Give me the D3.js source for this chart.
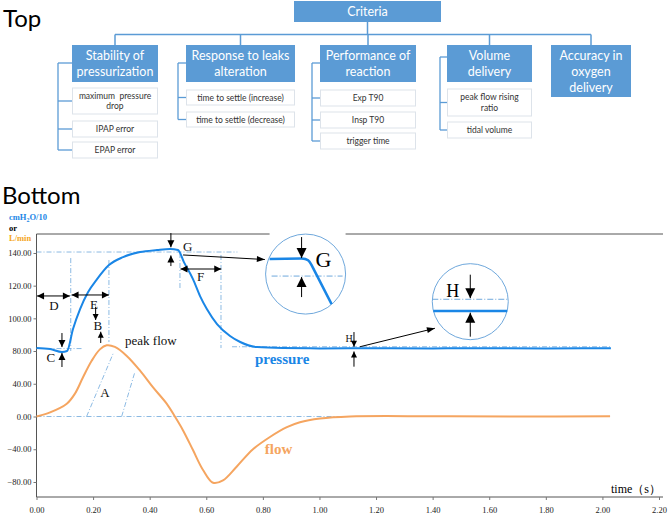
<!DOCTYPE html>
<html>
<head>
<meta charset="utf-8">
<script src="https://cdn.jsdelivr.net/npm/d3@7"></script>
<style>
  body { margin: 0; background: #fff; }
</style>
</head>
<body>
<script>
// ---------- data ----------
var rootLabel = "Criteria";
var groups = ["Stability of|pressurization", "Response to leaks|alteration", "Performance of|reaction", "Volume|delivery", "Accuracy in|oxygen|delivery"];
var subItems = [
    ["maximum  pressure|drop", "IPAP error", "EPAP error"],
    ["time to settle (increase)", "time to settle (decrease)"],
    ["Exp T90", "Insp T90", "trigger time"],
    ["peak flow rising|ratio", "tidal volume"],
    []
];

var timeTicks = [0, 0.2, 0.4, 0.6, 0.8, 1.0, 1.2, 1.4, 1.6, 1.8, 2.0, 2.2];
var flowTicks = [-80, -40, 0, 40, 80];
var pressureTicks = [100, 120, 140];

// pressure (cmH2O/10)
var presTime = [0, 0.048, 0.09, 0.108, 0.129, 0.154, 0.182, 0.214, 0.256, 0.306, 0.366, 0.426, 0.472, 0.5, 0.521, 0.553, 0.578, 0.602, 0.638, 0.684, 0.72, 0.78, 0.87, 1.0, 1.2, 1.4, 1.6, 1.8, 2.03];
var presValue = [81.8, 81.2, 79.4, 80, 93.5, 105.7, 116, 124, 132.6, 137.5, 140.6, 141.8, 142.4, 141.8, 134.4, 124, 113.6, 105.7, 96.5, 89.2, 85.5, 82.4, 81.8, 81.6, 81.7, 81.6, 81.7, 81.6, 81.7];

// flow (L/min)
var flowTime = [0, 0.048, 0.107, 0.136, 0.164, 0.195, 0.224, 0.248, 0.277, 0.319, 0.366, 0.412, 0.46, 0.489, 0.518, 0.553, 0.588, 0.624, 0.659, 0.708, 0.765, 0.825, 0.885, 0.931, 1.002, 1.108, 1.4, 1.7, 2.027];
var flowValue = [0, 5, 15.6, 28, 47.6, 68, 82, 87, 85, 74, 56, 35.5, 15.7, 0, -17, -41, -65, -81, -78, -61, -40, -25, -13, -7, -2.5, 0, 0.3, 0, 0.2];

// ---------- setup ----------
var W = 669, H = 516;
var blue = "#5b9bd5",
    lineBlue = "#1a86e6",
    orange = "#f5a560",
    guide = "#6fa8dc";
var sans = "Lato, 'Open Sans', sans-serif",
    serif = "'Liberation Serif', 'DejaVu Serif', serif";

var svg = d3.select("body").append("svg")
    .attr("width", W)
    .attr("height", H);

/* ------- Top : criteria tree ------- */
var boxX = [[72, 158], [186, 295], [320, 416], [447, 532], [551, 631]];
var boxTop = 45, boxBottom = [82, 82, 82, 82, 97];
var subY = [
    [[88, 114], [121, 137], [142, 158]],
    [[90, 105], [112, 127]],
    [[90, 106], [112, 128], [133, 149]],
    [[89, 116], [122, 138]],
    []
];
var bracketX = [58, 178, 312, 440];
var bracketTop = [63, 63, 63, 57];

svg.append("text")
    .attr("x", 3).attr("y", 27)
    .style("font", "24px " + sans)
    .text("Top");

var tree = svg.append("g");
tree.append("rect")
    .attr("x", 294).attr("y", 1).attr("width", 147).attr("height", 21)
    .attr("fill", blue);
tree.append("text")
    .attr("x", 367.5).attr("y", 16)
    .attr("text-anchor", "middle")
    .attr("fill", "#fff")
    .style("font", "12.5px " + sans)
    .text(rootLabel);

var busY = 34.5;
var centers = boxX.map(function (b) { return (b[0] + b[1]) / 2; });
tree.append("line")
    .attr("x1", 367.5).attr("x2", 367.5).attr("y1", 22).attr("y2", busY)
    .attr("stroke", blue).attr("stroke-width", 1.5);
tree.append("line")
    .attr("x1", centers[0]).attr("x2", centers[centers.length - 1])
    .attr("y1", busY).attr("y2", busY)
    .attr("stroke", blue).attr("stroke-width", 1.5);

groups.forEach(function (label, i) {
    var b = boxX[i];
    tree.append("line")
        .attr("x1", centers[i]).attr("x2", centers[i])
        .attr("y1", busY).attr("y2", boxTop)
        .attr("stroke", blue).attr("stroke-width", 1.5);
    tree.append("rect")
        .attr("x", b[0]).attr("y", boxTop)
        .attr("width", b[1] - b[0]).attr("height", boxBottom[i] - boxTop)
        .attr("fill", blue);
    var lines = label.split("|");
    var t = tree.append("text")
        .attr("text-anchor", "middle")
        .attr("fill", "#fff")
        .style("font", "12.5px " + sans);
    var mid = (boxTop + boxBottom[i]) / 2;
    lines.forEach(function (ln, k) {
        t.append("tspan")
            .attr("x", centers[i])
            .attr("y", mid + 4.5 + (k - (lines.length - 1) / 2) * 16)
            .text(ln);
    });

    var subs = subItems[i];
    if (!subs.length) return;
    var bx = bracketX[i];
    var lastMid = (subY[i][subs.length - 1][0] + subY[i][subs.length - 1][1]) / 2;
    tree.append("line")
        .attr("x1", bx).attr("x2", bx).attr("y1", bracketTop[i]).attr("y2", lastMid)
        .attr("stroke", blue).attr("stroke-width", 1.3);
    tree.append("line")
        .attr("x1", bx).attr("x2", b[0]).attr("y1", bracketTop[i]).attr("y2", bracketTop[i])
        .attr("stroke", blue).attr("stroke-width", 1.3);
    subs.forEach(function (s, k) {
        var yy = subY[i][k];
        var m = (yy[0] + yy[1]) / 2;
        tree.append("line")
            .attr("x1", bx).attr("x2", b[0]).attr("y1", m).attr("y2", m)
            .attr("stroke", blue).attr("stroke-width", 1.3);
        tree.append("rect")
            .attr("x", b[0] + 0.5).attr("y", yy[0])
            .attr("width", b[1] - b[0] - 1).attr("height", yy[1] - yy[0])
            .attr("fill", "#fff").attr("stroke", "#dde3ea").attr("stroke-width", 1);
        var sl = s.split("|");
        var st = tree.append("text")
            .attr("text-anchor", "middle")
            .attr("fill", "#333")
            .style("font", "8.5px " + sans)
            .style("white-space", "pre");
        sl.forEach(function (ln, j) {
            st.append("tspan")
                .attr("x", centers[i])
                .attr("y", m + 3 + (j - (sl.length - 1) / 2) * 10.5)
                .text(ln);
        });
    });
});

/* ------- Bottom : pressure / flow chart ------- */
svg.append("text")
    .attr("x", 2).attr("y", 204)
    .style("font", "24px " + sans)
    .text("Bottom");

var plotLeft = 36.5, plotRight = 663, plotTop = 234, plotBottom = 497;

var x = d3.scaleLinear().domain([0, 2.2]).range([plotLeft, 659]);
var yP = d3.scaleLinear().domain([80, 140]).range([351, 253]);   // cmH2O/10
var yF = d3.scaleLinear().domain([-80, 80]).range([482, 351]);   // L/min

var chart = svg.append("g");

// axis labels
var unit = chart.append("text")
    .attr("x", 9).attr("y", 220)
    .attr("fill", lineBlue)
    .style("font", "bold 8.5px " + serif);
unit.append("tspan").text("cmH");
unit.append("tspan").attr("dy", 2).style("font-size", "6px").text("2");
unit.append("tspan").attr("dy", -2).text("O/10");
chart.append("text").attr("x", 9).attr("y", 231)
    .style("font", "bold 8.5px " + serif).text("or");
chart.append("text").attr("x", 9).attr("y", 241)
    .attr("fill", "#f5a623")
    .style("font", "bold 8.5px " + serif).text("L/min");

// frame
var gGap = [x(0.951) - 36, x(0.951) + 40];
chart.append("line")
    .attr("x1", plotLeft).attr("x2", gGap[0]).attr("y1", plotTop).attr("y2", plotTop)
    .attr("stroke", "#555").attr("stroke-width", 1);
chart.append("line")
    .attr("x1", gGap[1]).attr("x2", plotRight).attr("y1", plotTop).attr("y2", plotTop)
    .attr("stroke", "#555").attr("stroke-width", 1);
chart.append("line")
    .attr("x1", plotLeft).attr("x2", plotLeft).attr("y1", plotTop).attr("y2", plotBottom)
    .attr("stroke", "#555").attr("stroke-width", 1);
chart.append("line")
    .attr("x1", plotLeft).attr("x2", plotRight).attr("y1", plotBottom).attr("y2", plotBottom)
    .attr("stroke", "#555").attr("stroke-width", 1);

var fmt = d3.format(".2f");
var xAxis = chart.append("g")
    .attr("transform", "translate(0," + plotBottom + ")")
    .call(d3.axisBottom(x).tickValues(timeTicks).tickSize(3).tickFormat(fmt));
var yAxisF = chart.append("g")
    .attr("transform", "translate(" + plotLeft + ",0)")
    .call(d3.axisLeft(yF).tickValues(flowTicks).tickSize(3).tickFormat(fmt));
var yAxisP = chart.append("g")
    .attr("transform", "translate(" + plotLeft + ",0)")
    .call(d3.axisLeft(yP).tickValues(pressureTicks).tickSize(3).tickFormat(fmt));
[xAxis, yAxisF, yAxisP].forEach(function (a) {
    a.select(".domain").remove();
    a.selectAll("line").attr("stroke", "#777");
    a.selectAll("text").style("font", "8.5px " + serif).attr("fill", "#222");
});
xAxis.selectAll("text").attr("y", 16).attr("dy", 0);
yAxisF.selectAll("text").attr("x", -5);
yAxisP.selectAll("text").attr("x", -5);

chart.append("text")
    .attr("x", 611).attr("y", 493)
    .style("font", "12px " + serif)
    .text("time（s）");

// guide lines (dash-dot)
function guideLine(x1, y1, x2, y2) {
    chart.append("line")
        .attr("x1", x1).attr("y1", y1).attr("x2", x2).attr("y2", y2)
        .attr("stroke", guide).attr("stroke-width", 0.8)
        .attr("stroke-dasharray", "5,2,1,2");
}
guideLine(x(0), yP(140.6), x(0.71), yP(140.6));
guideLine(x(0), yP(81.5), x(0.161), yP(81.5));
guideLine(x(0.691), yP(82.6), x(2.027), yP(82.6));
guideLine(x(0), yF(0), x(2.027), yF(0));
guideLine(x(0.121), yP(136.9), x(0.121), yP(80));
guideLine(x(0.256), yP(135.7), x(0.256), yP(85.5));
guideLine(x(0.507), yP(140), x(0.507), yP(117.3));
guideLine(x(0.652), yP(138.8), x(0.652), yP(81.8));
guideLine(x(0.177), yF(0), x(0.271), yF(77));
guideLine(x(0.301), yF(0), x(0.348), yF(54.7));

// curves
var presLine = d3.line()
    .x(function (d) { return x(d[0]); })
    .y(function (d) { return yP(d[1]); })
    .curve(d3.curveMonotoneX);
var flowLine = d3.line()
    .x(function (d) { return x(d[0]); })
    .y(function (d) { return yF(d[1]); })
    .curve(d3.curveCatmullRom.alpha(0.5));

chart.append("path")
    .datum(d3.zip(flowTime, flowValue))
    .attr("d", flowLine)
    .attr("fill", "none").attr("stroke", orange).attr("stroke-width", 2);
chart.append("path")
    .datum(d3.zip(presTime, presValue))
    .attr("d", presLine)
    .attr("fill", "none").attr("stroke", lineBlue).attr("stroke-width", 2);

// arrows
function head(g, x1, y1, x2, y2, len, w) {
    var a = Math.atan2(y2 - y1, x2 - x1);
    var bx = x2 - len * Math.cos(a), by = y2 - len * Math.sin(a);
    var p1 = [bx + w / 2 * Math.sin(a), by - w / 2 * Math.cos(a)];
    var p2 = [bx - w / 2 * Math.sin(a), by + w / 2 * Math.cos(a)];
    g.append("path")
        .attr("d", "M" + x2 + "," + y2 + "L" + p1 + "L" + p2 + "Z")
        .attr("fill", "#000");
}
function arrow(g, x1, y1, x2, y2, len, w, both) {
    g.append("line")
        .attr("x1", x1).attr("y1", y1).attr("x2", x2).attr("y2", y2)
        .attr("stroke", "#000").attr("stroke-width", 1);
    head(g, x1, y1, x2, y2, len, w);
    if (both) head(g, x2, y2, x1, y1, len, w);
}
function label(g, txt, xx, yy, size, anchor) {
    g.append("text")
        .attr("x", xx).attr("y", yy)
        .attr("text-anchor", anchor || "middle")
        .style("font", size + "px " + serif)
        .attr("fill", "#111")
        .text(txt);
}

var ann = chart.append("g");
// D, E
arrow(ann, x(0.002), yP(113.7), x(0.118), yP(113.7), 7, 7, true);
label(ann, "D", x(0.062), yP(105.1), 13);
arrow(ann, x(0.124), yP(114.3), x(0.256), yP(114.3), 7, 7, true);
label(ann, "E", x(0.203), yP(105.7), 13);
// B
arrow(ann, x(0.209), yP(107.1), x(0.209), yP(99), 6, 6);
label(ann, "B", x(0.217), yP(92.9), 13);
arrow(ann, x(0.227), yP(84.9), x(0.227), yP(91.8), 6, 6);
// C
arrow(ann, x(0.09), yP(91), x(0.09), yP(82.4), 7, 7);
arrow(ann, x(0.09), yP(70.2), x(0.09), yP(78.8), 7, 7);
label(ann, "C", x(0.051), yP(73.3), 13);
// G
arrow(ann, x(0.475), yP(152.2), x(0.475), yP(143.5), 7, 7);
arrow(ann, x(0.475), yP(132), x(0.475), yP(138.5), 7, 7);
label(ann, "G", x(0.518), yP(141.2), 13, "start");
arrow(ann, x(0.518), yP(138.8), x(0.807), yP(136), 8, 6);
// F
arrow(ann, x(0.509), yP(130.2), x(0.653), yP(130.2), 7, 7, true);
label(ann, "F", x(0.58), yP(122.9), 13);
// H
label(ann, "H", x(1.092), yP(85.7), 10, "start");
arrow(ann, x(1.122), yP(91.6), x(1.122), yP(82.6), 6, 6);
arrow(ann, x(1.122), yP(70.4), x(1.122), yP(79.7), 6, 6);
arrow(ann, x(1.143), yP(82.6), x(1.408), yP(93.9), 8, 6);
// A and text labels
label(ann, "A", x(0.242), yF(23.8), 13);
label(ann, "peak flow", x(0.313), yF(87.3), 13, "start");
ann.append("text")
    .attr("x", x(0.772)).attr("y", yP(72))
    .attr("fill", lineBlue)
    .style("font", "bold 15px " + serif)
    .text("pressure");
ann.append("text")
    .attr("x", x(0.807)).attr("y", yF(-45.8))
    .attr("fill", orange)
    .style("font", "bold 15px " + serif)
    .text("flow");

// magnified insets
var gc = [x(0.951), yP(127.1)], gr = 40;
var gIn = chart.append("g").attr("transform", "translate(" + gc + ")");
gIn.append("circle").attr("r", gr).attr("fill", "none").attr("stroke", guide).attr("stroke-width", 1);
gIn.append("line").attr("x1", -34).attr("x2", 37).attr("y1", 2).attr("y2", 2)
    .attr("stroke", guide).attr("stroke-width", 1).attr("stroke-dasharray", "6,2,1,2");
gIn.append("path")
    .attr("d", "M-36,-15L-4,-15.5C2,-15.5 4,-13 6,-9L26,30")
    .attr("fill", "none").attr("stroke", lineBlue).attr("stroke-width", 2.5);
arrow(gIn, -4, -37, -4, -16, 10, 10);
arrow(gIn, -4, 23, -4, 3, 10, 10);
gIn.append("text").attr("x", 10).attr("y", -7)
    .style("font", "22px " + serif).text("G");

var hc = [x(1.533), yP(110.2)], hr = 38;
var hIn = chart.append("g").attr("transform", "translate(" + hc + ")");
hIn.append("circle").attr("r", hr).attr("fill", "none").attr("stroke", guide).attr("stroke-width", 1);
hIn.append("line").attr("x1", -38).attr("x2", 38).attr("y1", -2.4).attr("y2", -2.4)
    .attr("stroke", guide).attr("stroke-width", 1).attr("stroke-dasharray", "6,2,1,2");
hIn.append("line").attr("x1", -37).attr("x2", 37).attr("y1", 9.3).attr("y2", 9.3)
    .attr("stroke", lineBlue).attr("stroke-width", 2.5);
arrow(hIn, 0, -27, 0, -3.5, 10, 10);
arrow(hIn, 0, 35, 0, 11, 10, 10);
hIn.append("text").attr("x", -24).attr("y", -4.5)
    .style("font", "18px " + serif).text("H");
</script>
</body>
</html>
